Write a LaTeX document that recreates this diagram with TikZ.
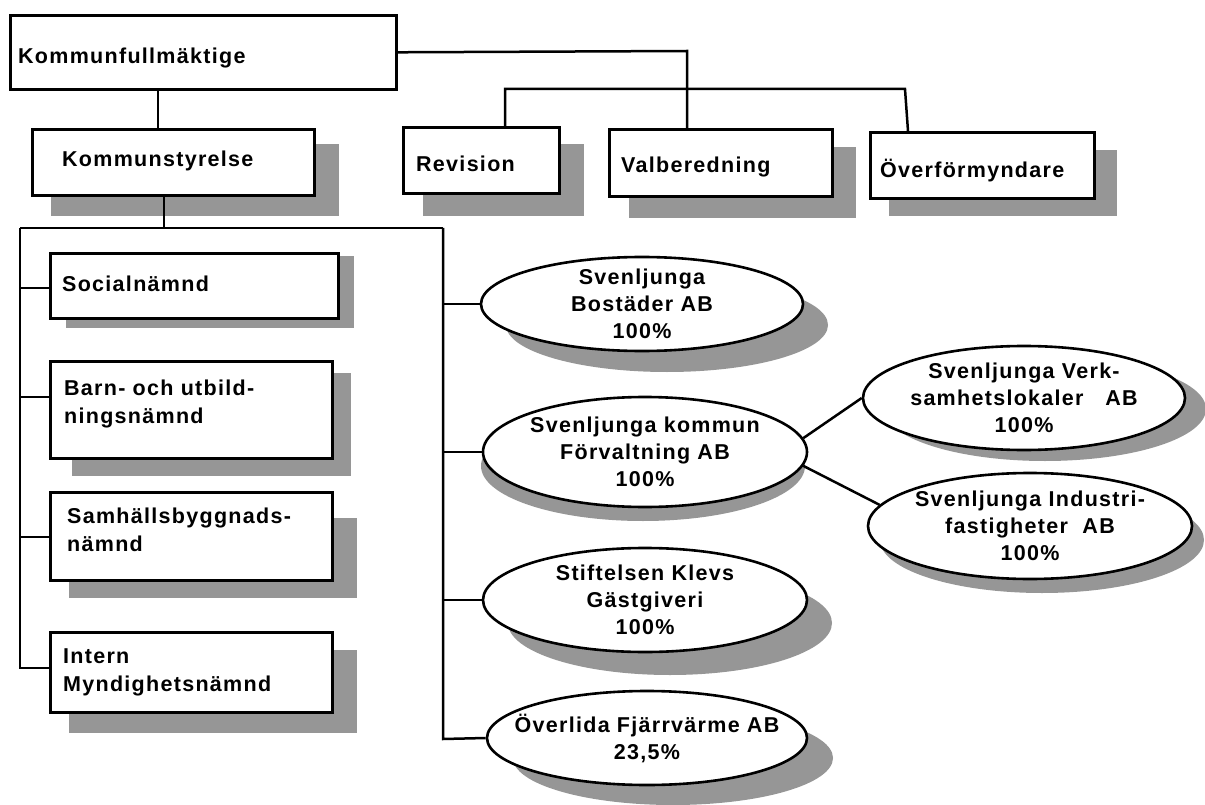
\documentclass[tikz,border=0pt]{standalone}
\usepackage{fontspec}
\setmainfont{Liberation Sans}[LetterSpace=6]
\usetikzlibrary{shapes.geometric}
\definecolor{shade}{RGB}{150,150,150}
\begin{document}
\begin{tikzpicture}[x=1pt,y=-1pt,
  box/.style={draw, line width=2.6pt, fill=white, inner sep=0pt, anchor=north west},
  ell/.style={ellipse, draw, line width=2.6pt, fill=white, inner sep=0pt},
  lbl/.style={inner sep=0pt, anchor=base west, align=left, font=\bfseries\fontsize{21.5}{28}\selectfont},
  etxt/.style={inner sep=0pt, align=center, font=\bfseries\fontsize{21.5}{27}\selectfont},
  shd/.style={fill=shade},
  conn/.style={line width=2.5pt}]
\useasboundingbox (0,0) rectangle (1205,805);
% shadows of boxes
\fill[shd] (51,144) rectangle (339,216);
\fill[shd] (66,256) rectangle (354,328);
\fill[shd] (72,373) rectangle (351,476);
\fill[shd] (69,518) rectangle (357,598);
\fill[shd] (69,650) rectangle (357,733);
\fill[shd] (423,144) rectangle (584,216);
\fill[shd] (629,147) rectangle (856,218);
\fill[shd] (889,150) rectangle (1117,216);
% shadows of ellipses
\fill[shd] (667,325) ellipse [x radius=161pt, y radius=47pt];
\fill[shd] (643,466) ellipse [x radius=162pt, y radius=55pt];
\fill[shd] (1045,409) ellipse [x radius=161pt, y radius=52pt];
\fill[shd] (1042,540) ellipse [x radius=162pt, y radius=53pt];
\fill[shd] (670,623) ellipse [x radius=162pt, y radius=52pt];
\fill[shd] (673,758) ellipse [x radius=160pt, y radius=47pt];
% boxes
\node[box, minimum width=386pt, minimum height=74pt] (kf) at (9,14) {};
\node[box, minimum width=282pt, minimum height=66pt] (ks) at (31,128) {};
\node[box, minimum width=156pt, minimum height=66pt] (rev) at (402,126) {};
\node[box, minimum width=223pt, minimum height=67pt] (vb) at (608,128) {};
\node[box, minimum width=224pt, minimum height=66pt] (ov) at (869,131) {};
\node[box, minimum width=288pt, minimum height=65pt] (so) at (49,252) {};
\node[box, minimum width=282pt, minimum height=97pt] (ba) at (49,360) {};
\node[box, minimum width=282pt, minimum height=88pt] (sa) at (49,491) {};
\node[box, minimum width=282pt, minimum height=80pt] (it) at (49,631) {};
% ellipses
\node[ell, minimum width=322pt, minimum height=94pt] (bo) at (642,304) {};
\node[ell, minimum width=324pt, minimum height=110pt] (fv) at (645,452) {};
\node[ell, minimum width=322pt, minimum height=104pt] (vk) at (1024,398) {};
\node[ell, minimum width=324pt, minimum height=106pt] (ind) at (1030,526) {};
\node[ell, minimum width=324pt, minimum height=104pt] (st) at (645,600) {};
\node[ell, minimum width=320pt, minimum height=94pt] (ol) at (647,738) {};
% connectors
\coordinate (j1) at (687,51);
\draw[conn] (kf.east) -- (j1) -- (j1 |- vb.north);
\coordinate (j2) at (505,89);
\coordinate (j3) at (905,89);
\coordinate (j4) at (908,131);
\draw[conn] (j2 |- rev.north) -- (j2) -- (j3) -- (j4);
\coordinate (j5) at (158,51);
\draw[conn] (j5 |- kf.south) -- (j5 |- ks.north);
\coordinate (j6) at (164,228);
\draw[conn] (j6 |- ks.south) -- (j6);
\coordinate (bl) at (20,228);
\coordinate (br) at (443,228);
\coordinate (bb) at (20,668);
\coordinate (rb) at (443,739);
\draw[conn] (bl) -- (br);
\draw[conn] (bl) -- (bb) -- (bb -| it.west);
\coordinate (b1) at (20,288);
\coordinate (b2) at (20,397);
\coordinate (b3) at (20,537);
\draw[conn] (b1) -- (b1 -| so.west);
\draw[conn] (b2) -- (b2 -| ba.west);
\draw[conn] (b3) -- (b3 -| sa.west);
\draw[conn] (br) -- (rb) -- (ol.west);
\draw[conn] (bo.west -| br) -- (bo.west);
\draw[conn] (fv.west -| br) -- (fv.west);
\draw[conn] (st.west -| br) -- (st.west);
\draw[conn] (fv.5) -- (vk.west);
\draw[conn] (fv.-5) -- (ind.172);
% box texts (base = baseline of the last line)
\node[lbl] (kft) at (18,64) {Kommunfullmäktige};
\node[lbl] (kst) at (62,167) {Kommunstyrelse};
\node[lbl] (revt) at (416,172) {Revision};
\node[lbl] (vbt) at (621,173) {Valberedning};
\node[lbl] (ovt) at (880,178) {Överförmyndare};
\node[lbl] (sot) at (62,291) {Socialnämnd};
\node[lbl] (bat) at (64,423) {Barn- och utbild-\\ningsnämnd};
\node[lbl] (sat) at (67,551) {Samhällsbyggnads-\\nämnd};
\node[lbl] (itt) at (63,691) {Intern\\Myndighetsnämnd};
% ellipse texts
\node[etxt] (bot) at (bo.center) {Svenljunga\\Bostäder AB\\100\%};
\node[etxt] (fvt) at (fv.center) {Svenljunga kommun\\Förvaltning AB\\100\%};
\node[etxt] (vkt) at (vk.center) {Svenljunga Verk-\\samhetslokaler\ \ \ AB\\100\%};
\node[etxt] (indt) at (ind.center) {Svenljunga Industri-\\fastigheter\ \ AB\\100\%};
\node[etxt] (stt) at (st.center) {Stiftelsen Klevs\\Gästgiveri\\100\%};
\node[etxt] (olt) at (ol.center) {Överlida Fjärrvärme AB\\23,5\%};
\end{tikzpicture}
\end{document}
